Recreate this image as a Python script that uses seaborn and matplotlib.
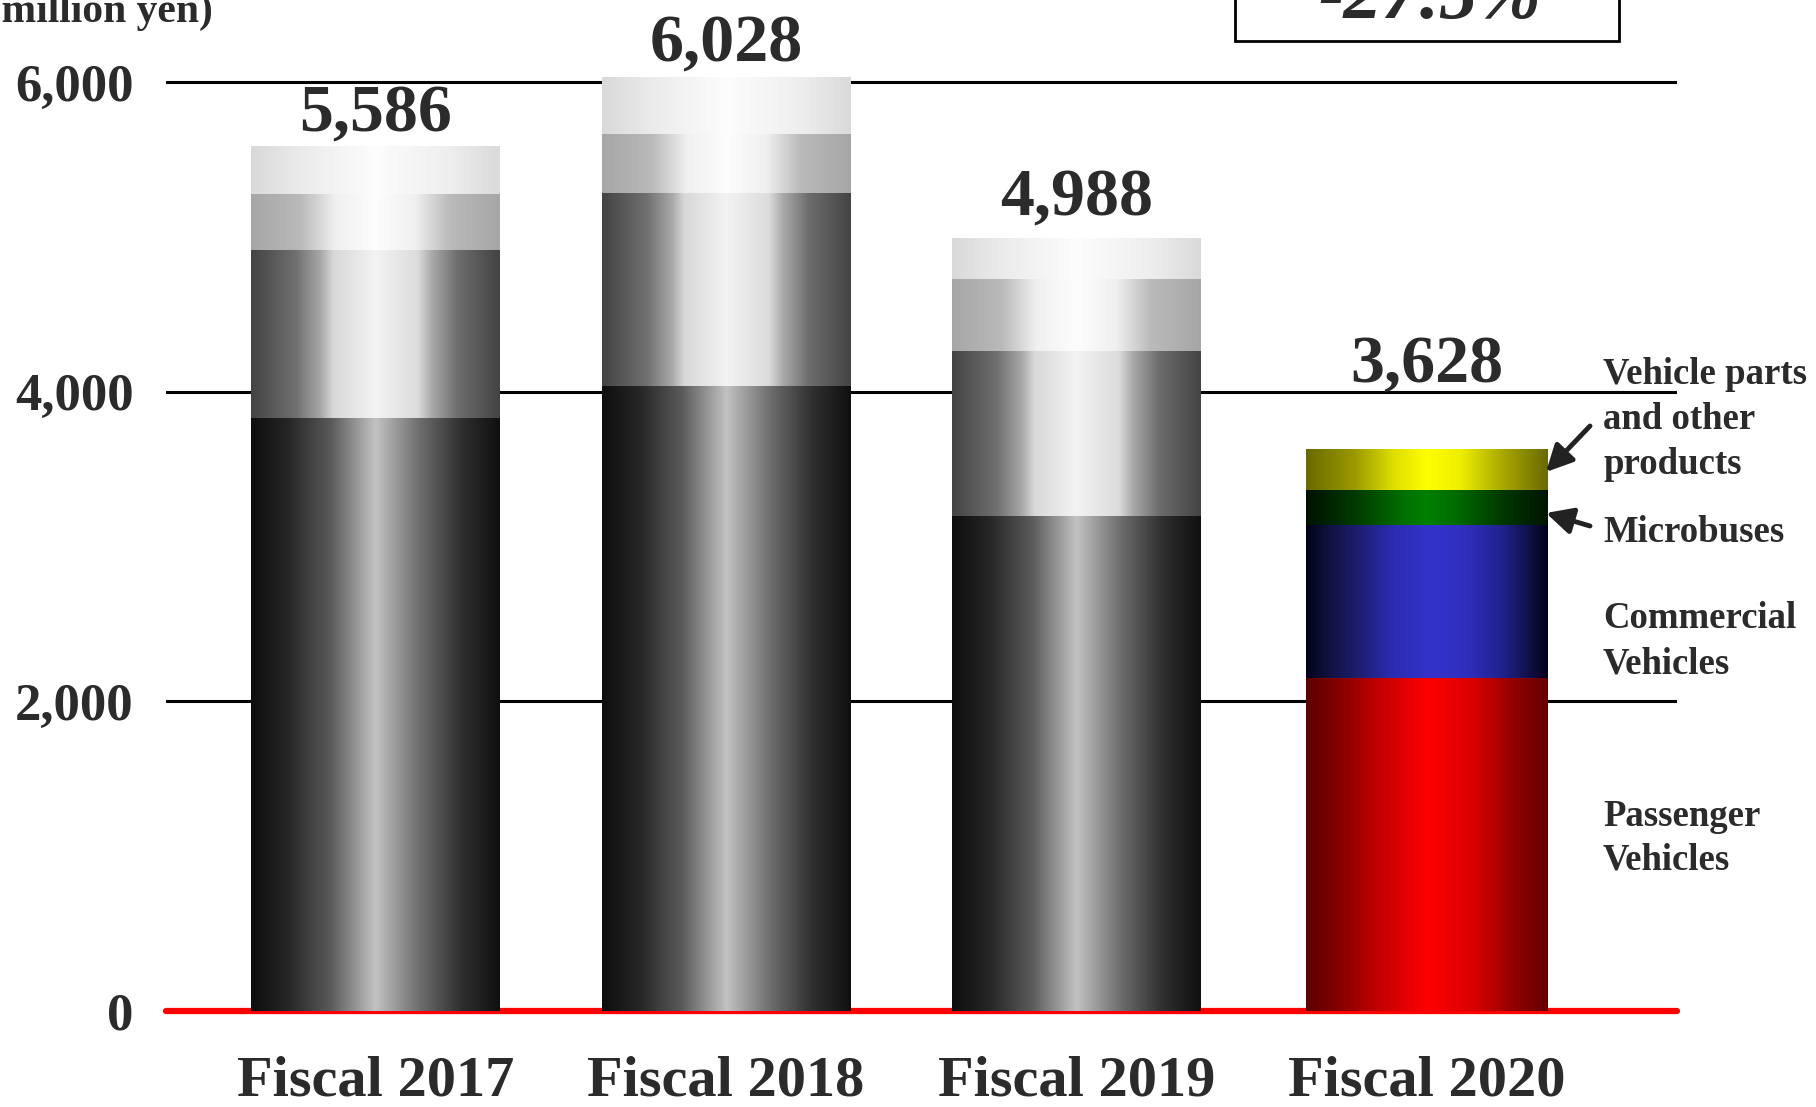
import numpy as np
import pandas as pd
import matplotlib
matplotlib.use("Agg")
import matplotlib.pyplot as plt
from matplotlib.colors import LinearSegmentedColormap
from matplotlib.patches import Rectangle
import seaborn as sns

# Net sales by segment (million yen)
years = ["Fiscal 2017", "Fiscal 2018", "Fiscal 2019", "Fiscal 2020"]
passenger = [3831, 4038, 3195, 2151]
commercial = [1083, 1245, 1070, 987]
microbuses = [367, 380, 462, 229]
parts_other = [305, 365, 261, 261]
totals = [5586, 6028, 4988, 3628]
yticks = [0, 2000, 4000, 6000]
change_label = "-27.5%"
unit_label = "(Unit: million yen)"
segment_labels = [
    ["Passenger", "Vehicles"],
    ["Commercial", "Vehicles"],
    ["Microbuses"],
    ["Vehicle parts", "and other", "products"],
]

sns.set_theme(style="white")
plt.rcParams["font.family"] = ["Liberation Serif", "DejaVu Serif"]
plt.rcParams["font.weight"] = "bold"
TEXT = "#2b2b2b"

W, H = 1816, 1107
fig = plt.figure(figsize=(W / 100, H / 100), dpi=100)
ax = fig.add_axes([165.6 / W, 96 / H, (1677 - 165.6) / W, 1011 / H])


def ramp(stops):
    return LinearSegmentedColormap.from_list("", stops)


# horizontal "cylinder" shading, one ramp per segment
gray_ramps = [
    ramp([(0, "#0e0e0e"), (0.15, "#262626"), (0.32, "#5a5a5a"), (0.5, "#c2c2c2"),
          (0.68, "#6c6c6c"), (0.85, "#2e2e2e"), (1, "#101010")]),
    ramp([(0, "#434343"), (0.18, "#707070"), (0.28, "#a8a8a8"), (0.33, "#d8d8d8"),
          (0.5, "#f3f3f3"), (0.67, "#dcdcdc"), (0.73, "#a8a8a8"), (0.83, "#6e6e6e"), (1, "#444444")]),
    ramp([(0, "#a6a6a6"), (0.2, "#bababa"), (0.34, "#f0f0f0"), (0.5, "#fdfdfd"),
          (0.66, "#f0f0f0"), (0.8, "#bababa"), (1, "#a6a6a6")]),
    ramp([(0, "#d9d9d9"), (0.2, "#ebebeb"), (0.5, "#fdfdfd"), (0.8, "#eeeeee"), (1, "#dadada")]),
]
color_ramps = [
    ramp([(0, "#5e0000"), (0.12, "#800000"), (0.3, "#c20000"), (0.5, "#ff0000"),
          (0.7, "#d80000"), (0.88, "#8a0000"), (1, "#640000")]),
    ramp([(0, "#000018"), (0.05, "#0c0c30"), (0.2, "#1c1c6a"), (0.36, "#2c2cb2"),
          (0.52, "#3333cc"), (0.66, "#2f2fbe"), (0.82, "#20208a"), (0.95, "#0c0c36"), (1, "#000020")]),
    ramp([(0, "#001000"), (0.2, "#003a00"), (0.42, "#007400"), (0.5, "#008000"),
          (0.62, "#006c00"), (0.82, "#003600"), (1, "#001500")]),
    ramp([(0, "#6a6a00"), (0.2, "#9a9a00"), (0.36, "#dede00"), (0.5, "#ffff00"),
          (0.64, "#eeee00"), (0.82, "#a6a600"), (1, "#6a6a00")]),
]

layers = [passenger, commercial, microbuses, parts_other]
upper = np.cumsum(np.array(layers, dtype=float), axis=0)
lower = np.vstack([np.zeros(len(years)), upper[:-1]])
bar_widths = [0.71, 0.71, 0.71, 0.69]
grad = np.linspace(0, 1, 512).reshape(1, -1)

for k in range(len(layers)):
    df = pd.DataFrame({"year": years, "value": upper[k]})
    start = len(ax.patches)
    sns.barplot(data=df, x="year", y="value", order=years, width=0.71,
                errorbar=None, color="white", linewidth=0, ax=ax)
    for j, p in enumerate(ax.patches[start:]):
        cx = p.get_x() + p.get_width() / 2
        w = bar_widths[j]
        p.set_x(cx - w / 2)
        p.set_width(w)
        p.set_facecolor("none")
        p.set_edgecolor("none")
        cmap = color_ramps[k] if j == len(years) - 1 else gray_ramps[k]
        ax.imshow(grad, cmap=cmap, aspect="auto", interpolation="bilinear",
                  extent=[cx - w / 2, cx + w / 2, lower[k][j], upper[k][j]], zorder=2)

# gridlines and baseline
for y in yticks[1:]:
    ax.axhline(y, color="black", lw=2.2, zorder=1)
ax.axhline(0, color="#ff0000", lw=4.5, zorder=1.5, clip_on=False)

ax.set_xlim(-0.6, 3.714)
ax.set_ylim(0, 6531)
for s in ax.spines.values():
    s.set_visible(False)
ax.set_xlabel("")
ax.set_ylabel("")
ax.set_yticks(yticks)
ax.set_yticklabels([f"{v:,}" for v in yticks])
ax.tick_params(axis="y", length=0, pad=23, labelsize=38, labelcolor=TEXT)
ax.tick_params(axis="x", length=0, pad=32, labelsize=42, labelcolor=TEXT)
for t in ax.get_xticklabels() + ax.get_yticklabels():
    t.set_fontweight("bold")

# totals above each bar (offsets in points)
label_offsets = [10.8, 11.5, 16.5, 48]
for j, tot in enumerate(totals):
    ax.annotate(f"{tot:,}", xy=(j, tot), xytext=(0, label_offsets[j]),
                textcoords="offset points", ha="center", va="baseline",
                fontsize=49, fontweight="bold", color=TEXT, zorder=5)

# change versus previous year, boxed at the top
fig.add_artist(Rectangle((1234.6 / W, 1 - 40.5 / H), (1619 - 1234.6) / W, 0.1,
                         transform=fig.transFigure, facecolor="white",
                         edgecolor="black", lw=2))
fig.text(1430 / W, 1 - 18 / H, change_label, ha="center", va="baseline",
         fontsize=55, fontstyle="italic", fontweight="bold", color=TEXT)

fig.text(213 / W, 1 - 22 / H, unit_label, ha="right", va="baseline",
         fontsize=30, fontweight="bold", color=TEXT)

# segment names at the right of the last bar
baselines = [[826, 870], [628, 674], [542], [384, 429, 474]]
for lines, ys in zip(segment_labels, baselines):
    for line, y in zip(lines, ys):
        fig.text(1603 / W, 1 - y / H, line, ha="left", va="baseline",
                 fontsize=26.5, fontweight="bold", color=TEXT)

arrow_kw = dict(arrowstyle="-|>,head_length=0.8,head_width=0.4", lw=3.5,
                color="#222222", shrinkA=0, shrinkB=0, mutation_scale=20)
ax.annotate("", xy=(1546, H - 472), xycoords="figure pixels",
            xytext=(1590, H - 426), textcoords="figure pixels", arrowprops=arrow_kw)
ax.annotate("", xy=(1546, H - 513), xycoords="figure pixels",
            xytext=(1590, H - 526), textcoords="figure pixels", arrowprops=arrow_kw)

fig.savefig("out.png", dpi=100)
